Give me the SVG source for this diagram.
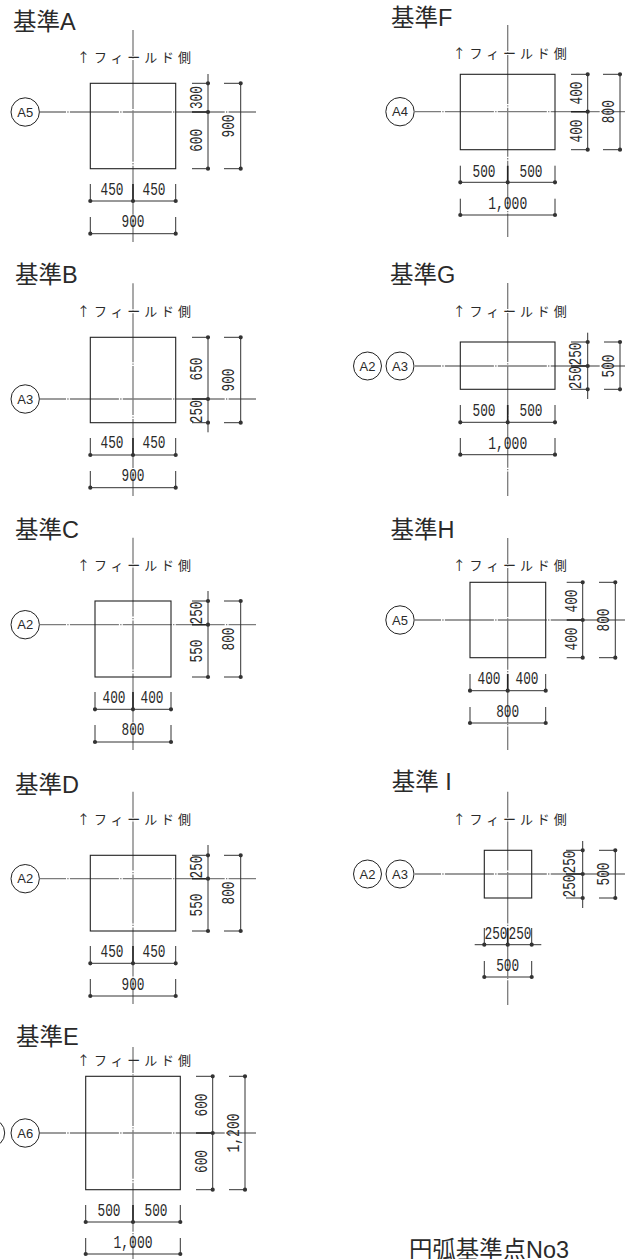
<svg xmlns="http://www.w3.org/2000/svg" width="625" height="1259" viewBox="0 0 625 1259">
<style>
text{fill:#2a2a2a;font-family:"Liberation Sans","Noto Sans CJK JP",sans-serif}
.t{font-size:23.5px}
.f{font-size:13px;font-family:"Noto Sans CJK JP",sans-serif}
.n{font-family:"Liberation Mono",monospace;font-size:19px;text-anchor:middle}
.c{font-family:"Liberation Sans",sans-serif;font-size:13px;text-anchor:middle}
.b{fill:none;stroke:#222;stroke-width:1.1}
.o{fill:#fff;stroke:#222;stroke-width:1}
.cl{fill:none;stroke:#7c7c7c;stroke-width:1.3;stroke-dasharray:49 1.3 1.3 1.3;stroke-dashoffset:23}
.dl{fill:none;stroke:#333;stroke-width:1}
.mt{fill:none;stroke:#222;stroke-width:1.6}
.dt{fill:none;stroke:#333;stroke-width:4.2;stroke-linecap:round}
</style>
<g id="connectors">
<path class="cl" d="M40 112H256M133 30V242"/>
<path class="dl" d="M90.3 184V201M175.7 184V201M90.3 201H175.7M90.3 217V233.7M175.7 217V233.7M90.3 233.7H175.7M192 83.3H208M192 168.7H208M208 74V168.7M224 83.3H240.7M224 168.7H240.7M240.7 83.3V168.7"/>
<path class="mt" d="M133 184V201M192 112H208"/>
<path class="dt" d="M90.3 201h0M133 201h0M175.7 201h0M90.3 233.7h0M175.7 233.7h0M208 83.3h0M208 112h0M208 168.7h0M240.7 83.3h0M240.7 168.7h0"/>

<path class="cl" d="M40 399H256M133 283.300V496"/>
<path class="dl" d="M90.3 438V455M175.7 438V455M90.3 455H175.7M90.3 471V487.700M175.7 471V487.700M90.3 487.700H175.7M192 337.300H208M192 422.700H208M208 337.300V432.300M224 337.300H240.700M224 422.700H240.700M240.700 337.300V422.700"/>
<path class="mt" d="M133 438V455M192 399H208"/>
<path class="dt" d="M90.3 455h0M133 455h0M175.7 455h0M90.3 487.700h0M175.7 487.700h0M208 337.300h0M208 399h0M208 422.700h0M240.700 337.300h0M240.700 422.700h0"/>

<path class="cl" d="M40 624.700H256M133 537.700V750"/>
<path class="dl" d="M95 692V709.300M171 692V709.300M95 709.300H171M95 725V742M171 725V742M95 742H171M192 601H208M192 677H208M208 591V677M224 601H240.700M224 677H240.700M240.700 601V677"/>
<path class="mt" d="M133 692V709.300M192 624.700H208"/>
<path class="dt" d="M95 709.300h0M133 709.300h0M171 709.300h0M95 742h0M171 742h0M208 601h0M208 624.700h0M208 677h0M240.700 601h0M240.700 677h0"/>

<path class="cl" d="M40 878.700H256M133 791.700V1004"/>
<path class="dl" d="M90.3 946V963.300M175.7 946V963.300M90.3 963.300H175.7M90.3 979V996M175.7 979V996M90.3 996H175.7M192 855.300H208M192 931H208M208 845V931M224 855.300H240.700M224 931H240.700M240.700 855.300V931"/>
<path class="mt" d="M133 946V963.300M192 878.700H208"/>
<path class="dt" d="M90.3 963.300h0M133 963.300h0M175.7 963.300h0M90.3 996h0M175.7 996h0M208 855.300h0M208 878.700h0M208 931h0M240.700 855.300h0M240.700 931h0"/>

<path class="cl" d="M40 1133H256M133 1047V1259"/>
<path class="dl" d="M85.7 1205V1222M180.3 1205V1222M85.7 1222H180.3M85.7 1238V1254M180.3 1238V1254M85.7 1254H180.3M196 1076.3H212.7M196 1189.7H212.7M212.7 1076.3V1189.7M229 1076.3H245M229 1189.7H245M245 1076.3V1189.7"/>
<path class="mt" d="M133 1205V1222M196 1133H212.7"/>
<path class="dt" d="M85.7 1222h0M133 1222h0M180.3 1222h0M85.7 1254h0M180.3 1254h0M212.7 1076.3h0M212.7 1133h0M212.7 1189.7h0M245 1076.3h0M245 1189.7h0"/>

<path class="cl" d="M415 111.700H625M507.7 25V237"/>
<path class="dl" d="M460.300 165.700V182.300M555 165.700V182.300M460.300 182.300H555M460.300 198.700V215M555 198.700V215M460.300 215H555M571 74.300H587.700M571 149.700H587.700M587.700 74.300V149.700M603 74.300H620M603 149.700H620M620 74.300V149.700"/>
<path class="mt" d="M507.7 165.700V182.300M571 111.700H587.700"/>
<path class="dt" d="M460.300 182.300h0M507.7 182.300h0M555 182.300h0M460.300 215h0M555 215h0M587.700 74.300h0M587.700 111.700h0M587.700 149.700h0M620 74.300h0M620 149.700h0"/>

<path class="cl" d="M415 366H625M507.7 283V496"/>
<path class="dl" d="M460.3 405V422.3M555 405V422.3M460.3 422.3H555M460.3 438V454.7M555 438V454.7M460.3 454.7H555M571 342H587.7M571 389.3H587.7M587.7 332.7V399M604 342H620M604 389.3H620M620 342V389.3"/>
<path class="mt" d="M507.7 405V422.3M571 366H587.7"/>
<path class="dt" d="M460.3 422.3h0M507.7 422.3h0M555 422.3h0M460.3 454.7h0M555 454.7h0M587.7 342h0M587.7 366h0M587.7 389.3h0M620 342h0M620 389.3h0"/>

<path class="cl" d="M415 620H625M507.7 538V750"/>
<path class="dl" d="M470 674V690.700M545.700 674V690.700M470 690.700H545.700M470 707V723M545.700 707V723M470 723H545.700M566.700 582.300H582.700M566.700 657.700H582.700M582.700 582.300V657.700M599 582.300H615.300M599 657.700H615.300M615.300 582.300V657.700"/>
<path class="mt" d="M507.7 674V690.700M566.700 620H582.700"/>
<path class="dt" d="M470 690.700h0M507.7 690.700h0M545.700 690.700h0M470 723h0M545.700 723h0M582.700 582.300h0M582.700 620h0M582.700 657.700h0M615.300 582.300h0M615.300 657.700h0"/>

<path class="cl" d="M415 874H625M507.7 791.7V1005"/>
<path class="dl" d="M484.3 928V944.7M531.7 928V944.7M474.7 944.7H541.3M484.3 961V977M531.7 961V977M484.3 977H531.7M566 850.3H582.7M566 898H582.7M582.7 841V908M599 850.3H615.3M599 898H615.3M615.3 850.3V898"/>
<path class="mt" d="M507.7 928V944.7M566 874H582.7"/>
<path class="dt" d="M484.3 944.7h0M507.7 944.7h0M531.7 944.7h0M484.3 977h0M531.7 977h0M582.7 850.3h0M582.7 874h0M582.7 898h0M615.3 850.3h0M615.3 898h0"/>
</g>

<g id="kijun-a">
<rect class="b" x="90.3" y="83.3" width="85.4" height="85.4"/>
<circle class="o" cx="25.200" cy="112" r="14.2"/><text class="c" x="25.200" y="116.500">A5</text>
<text class="t" x="13" y="30">基準A</text>
<text class="f" x="77" y="62" textLength="114">↑フィールド側</text>
<text class="n" x="112" y="195" textLength="23" lengthAdjust="spacingAndGlyphs">450</text>
<text class="n" x="154" y="195" textLength="23" lengthAdjust="spacingAndGlyphs">450</text>
<text class="n" x="133" y="227" textLength="23" lengthAdjust="spacingAndGlyphs">900</text>
<text class="n" transform="translate(202 97.6) rotate(-90)" textLength="23" lengthAdjust="spacingAndGlyphs">300</text>
<text class="n" transform="translate(202 140.3) rotate(-90)" textLength="23" lengthAdjust="spacingAndGlyphs">600</text>
<text class="n" transform="translate(234 126) rotate(-90)" textLength="23" lengthAdjust="spacingAndGlyphs">900</text>
</g>

<g id="kijun-b">
<rect class="b" x="90.3" y="337.300" width="85.4" height="85.4"/>
<circle class="o" cx="25.200" cy="399" r="14.2"/><text class="c" x="25.200" y="403.500">A3</text>
<text class="t" x="15" y="283">基準B</text>
<text class="f" x="77" y="316" textLength="114">↑フィールド側</text>
<text class="n" x="112" y="448.300" textLength="23" lengthAdjust="spacingAndGlyphs">450</text>
<text class="n" x="154" y="448.300" textLength="23" lengthAdjust="spacingAndGlyphs">450</text>
<text class="n" x="133" y="481" textLength="23" lengthAdjust="spacingAndGlyphs">900</text>
<text class="n" transform="translate(202 369) rotate(-90)" textLength="23" lengthAdjust="spacingAndGlyphs">650</text>
<text class="n" transform="translate(202 411.700) rotate(-90)" textLength="23" lengthAdjust="spacingAndGlyphs">250</text>
<text class="n" transform="translate(234 380) rotate(-90)" textLength="23" lengthAdjust="spacingAndGlyphs">900</text>
</g>

<g id="kijun-c">
<rect class="b" x="95" y="601" width="76" height="76"/>
<circle class="o" cx="25.200" cy="624.700" r="14.2"/><text class="c" x="25.200" y="629.200">A2</text>
<text class="t" x="15" y="538">基準C</text>
<text class="f" x="77" y="570" textLength="114">↑フィールド側</text>
<text class="n" x="114" y="703" textLength="23" lengthAdjust="spacingAndGlyphs">400</text>
<text class="n" x="152" y="703" textLength="23" lengthAdjust="spacingAndGlyphs">400</text>
<text class="n" x="133" y="735" textLength="23" lengthAdjust="spacingAndGlyphs">800</text>
<text class="n" transform="translate(202 613) rotate(-90)" textLength="23" lengthAdjust="spacingAndGlyphs">250</text>
<text class="n" transform="translate(202 651) rotate(-90)" textLength="23" lengthAdjust="spacingAndGlyphs">550</text>
<text class="n" transform="translate(234 639) rotate(-90)" textLength="23" lengthAdjust="spacingAndGlyphs">800</text>
</g>

<g id="kijun-d">
<rect class="b" x="90.3" y="855.300" width="85.4" height="75.700"/>
<circle class="o" cx="25.200" cy="878.700" r="14.2"/><text class="c" x="25.200" y="883.200">A2</text>
<text class="t" x="15" y="793">基準D</text>
<text class="f" x="77" y="824" textLength="114">↑フィールド側</text>
<text class="n" x="112" y="957" textLength="23" lengthAdjust="spacingAndGlyphs">450</text>
<text class="n" x="154" y="957" textLength="23" lengthAdjust="spacingAndGlyphs">450</text>
<text class="n" x="133" y="989.500" textLength="23" lengthAdjust="spacingAndGlyphs">900</text>
<text class="n" transform="translate(202 867) rotate(-90)" textLength="23" lengthAdjust="spacingAndGlyphs">250</text>
<text class="n" transform="translate(202 905) rotate(-90)" textLength="23" lengthAdjust="spacingAndGlyphs">550</text>
<text class="n" transform="translate(234 893) rotate(-90)" textLength="23" lengthAdjust="spacingAndGlyphs">800</text>
</g>

<g id="kijun-e">
<rect class="b" x="85.7" y="1076.3" width="94.6" height="113.4"/>
<circle class="o" cx="-9.500" cy="1133" r="14.2"/>
<circle class="o" cx="25.200" cy="1133" r="14.2"/><text class="c" x="25.200" y="1137.500">A6</text>
<text class="t" x="16" y="1045">基準E</text>
<text class="f" x="77" y="1065" textLength="114">↑フィールド側</text>
<text class="n" x="109" y="1216" textLength="23" lengthAdjust="spacingAndGlyphs">500</text>
<text class="n" x="156" y="1216" textLength="23" lengthAdjust="spacingAndGlyphs">500</text>
<text class="n" x="133" y="1248" textLength="39" lengthAdjust="spacingAndGlyphs">1,000</text>
<text class="n" transform="translate(206.700 1105) rotate(-90)" textLength="23" lengthAdjust="spacingAndGlyphs">600</text>
<text class="n" transform="translate(206.700 1161.500) rotate(-90)" textLength="23" lengthAdjust="spacingAndGlyphs">600</text>
<text class="n" transform="translate(239 1133) rotate(-90)" textLength="39" lengthAdjust="spacingAndGlyphs">1,200</text>
</g>

<g id="kijun-f">
<rect class="b" x="460.300" y="74.300" width="94.7" height="75.400"/>
<circle class="o" cx="400" cy="111.700" r="14.2"/><text class="c" x="400" y="116.200">A4</text>
<text class="t" x="391" y="26">基準F</text>
<text class="f" x="452.700" y="58" textLength="114">↑フィールド側</text>
<text class="n" x="484" y="176.500" textLength="23" lengthAdjust="spacingAndGlyphs">500</text>
<text class="n" x="531" y="176.500" textLength="23" lengthAdjust="spacingAndGlyphs">500</text>
<text class="n" x="507.700" y="209" textLength="39" lengthAdjust="spacingAndGlyphs">1,000</text>
<text class="n" transform="translate(581.700 93) rotate(-90)" textLength="23" lengthAdjust="spacingAndGlyphs">400</text>
<text class="n" transform="translate(581.700 131) rotate(-90)" textLength="23" lengthAdjust="spacingAndGlyphs">400</text>
<text class="n" transform="translate(614 111.700) rotate(-90)" textLength="23" lengthAdjust="spacingAndGlyphs">800</text>
</g>

<g id="kijun-g">
<rect class="b" x="460.3" y="342" width="94.7" height="47.3"/>
<circle class="o" cx="367.500" cy="366" r="14"/><text class="c" x="367.500" y="370.500">A2</text>
<circle class="o" cx="400" cy="366" r="14"/><text class="c" x="400" y="370.500">A3</text>
<text class="t" x="390" y="283">基準G</text>
<text class="f" x="452.700" y="316" textLength="114">↑フィールド側</text>
<text class="n" x="484" y="416" textLength="23" lengthAdjust="spacingAndGlyphs">500</text>
<text class="n" x="531" y="416" textLength="23" lengthAdjust="spacingAndGlyphs">500</text>
<text class="n" x="507.700" y="448.500" textLength="39" lengthAdjust="spacingAndGlyphs">1,000</text>
<text class="n" transform="translate(581 354) rotate(-90)" textLength="23" lengthAdjust="spacingAndGlyphs">250</text>
<text class="n" transform="translate(581 377.700) rotate(-90)" textLength="23" lengthAdjust="spacingAndGlyphs">250</text>
<text class="n" transform="translate(614 366) rotate(-90)" textLength="23" lengthAdjust="spacingAndGlyphs">500</text>
</g>

<g id="kijun-h">
<rect class="b" x="470" y="582.300" width="75.700" height="75.400"/>
<circle class="o" cx="400" cy="620" r="14.2"/><text class="c" x="400" y="624.500">A5</text>
<text class="t" x="390.500" y="538">基準H</text>
<text class="f" x="452.700" y="570" textLength="114">↑フィールド側</text>
<text class="n" x="489" y="684" textLength="23" lengthAdjust="spacingAndGlyphs">400</text>
<text class="n" x="527" y="684" textLength="23" lengthAdjust="spacingAndGlyphs">400</text>
<text class="n" x="507.700" y="716.700" textLength="23" lengthAdjust="spacingAndGlyphs">800</text>
<text class="n" transform="translate(576.700 601) rotate(-90)" textLength="23" lengthAdjust="spacingAndGlyphs">400</text>
<text class="n" transform="translate(576.700 639) rotate(-90)" textLength="23" lengthAdjust="spacingAndGlyphs">400</text>
<text class="n" transform="translate(609 620) rotate(-90)" textLength="23" lengthAdjust="spacingAndGlyphs">800</text>
</g>

<g id="kijun-i">
<rect class="b" x="484.3" y="850.3" width="47.4" height="47.7"/>
<circle class="o" cx="367.500" cy="874" r="14"/><text class="c" x="367.500" y="878.500">A2</text>
<circle class="o" cx="400" cy="874" r="14"/><text class="c" x="400" y="878.500">A3</text>
<text class="t" x="391.700" y="790">基準 I</text>
<text class="f" x="452.700" y="824" textLength="114">↑フィールド側</text>
<text class="n" x="496" y="938.700" textLength="23" lengthAdjust="spacingAndGlyphs">250</text>
<text class="n" x="520" y="938.700" textLength="23" lengthAdjust="spacingAndGlyphs">250</text>
<text class="n" x="507.700" y="971" textLength="23" lengthAdjust="spacingAndGlyphs">500</text>
<text class="n" transform="translate(575 862) rotate(-90)" textLength="23" lengthAdjust="spacingAndGlyphs">250</text>
<text class="n" transform="translate(575 886) rotate(-90)" textLength="23" lengthAdjust="spacingAndGlyphs">250</text>
<text class="n" transform="translate(608.500 874) rotate(-90)" textLength="23" lengthAdjust="spacingAndGlyphs">500</text>
</g>

<g id="caption">
<text class="t" x="409" y="1258" textLength="160" lengthAdjust="spacingAndGlyphs">円弧基準点No3</text>
</g>
</svg>
